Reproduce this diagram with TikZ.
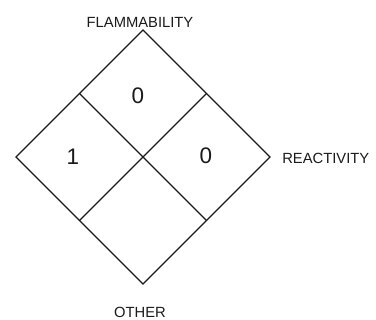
\documentclass[tikz,border=0pt]{standalone}
\usepackage{fontspec}
\setmainfont{Liberation Sans}
\usepackage{xcolor}
\usepackage{tikz}
\usetikzlibrary{positioning, calc}
\definecolor{hazline}{HTML}{1A1A1A}
\tikzset{
    hazlabel/.style={font=\fontsize{10.5}{12}\selectfont, text=hazline, inner sep=0pt},
    haznumber/.style={font=\fontsize{16}{19}\selectfont, text=hazline, inner sep=0pt},
    hazedge/.style={draw=hazline, line width=0.8pt, line join=miter}
}

\begin{document}
\begin{tikzpicture}
    \useasboundingbox (0,0) rectangle (9.4,8);

    % Diamond corners
    \coordinate (top) at (3.575, 7.25);
    \coordinate (left) at (0.4, 4.075);
    \coordinate (right) at (6.75, 4.075);
    \coordinate (bottom) at (3.575, 0.9);
    \coordinate (centre) at (3.575, 4.075);

    % Side midpoints
    \coordinate (ul) at ($(top)!0.5!(left)$);
    \coordinate (ur) at ($(top)!0.5!(right)$);
    \coordinate (ll) at ($(bottom)!0.5!(left)$);
    \coordinate (lr) at ($(bottom)!0.5!(right)$);

    % Outline and inner cross
    \draw[hazedge] (top) -- (right) -- (bottom) -- (left) -- cycle;
    \draw[hazedge] (ul) -- (lr);
    \draw[hazedge] (ur) -- (ll);

    % Ratings
    \node[haznumber] (flamval) at (3.45, 5.6) {0};
    \node[haznumber] (healthval) at (1.825, 4.09) {1};
    \node[haznumber] (reactval) at (5.15, 4.1) {0};

    % Category labels
    \node[hazlabel] (flam) at (3.5, 7.45) {FLAMMABILITY};
    \node[hazlabel, anchor=west] (react) at (7.05, 4.05) {REACTIVITY};
    \node[hazlabel] (other) at (3.5, 0.18) {OTHER};
\end{tikzpicture}
\end{document}
